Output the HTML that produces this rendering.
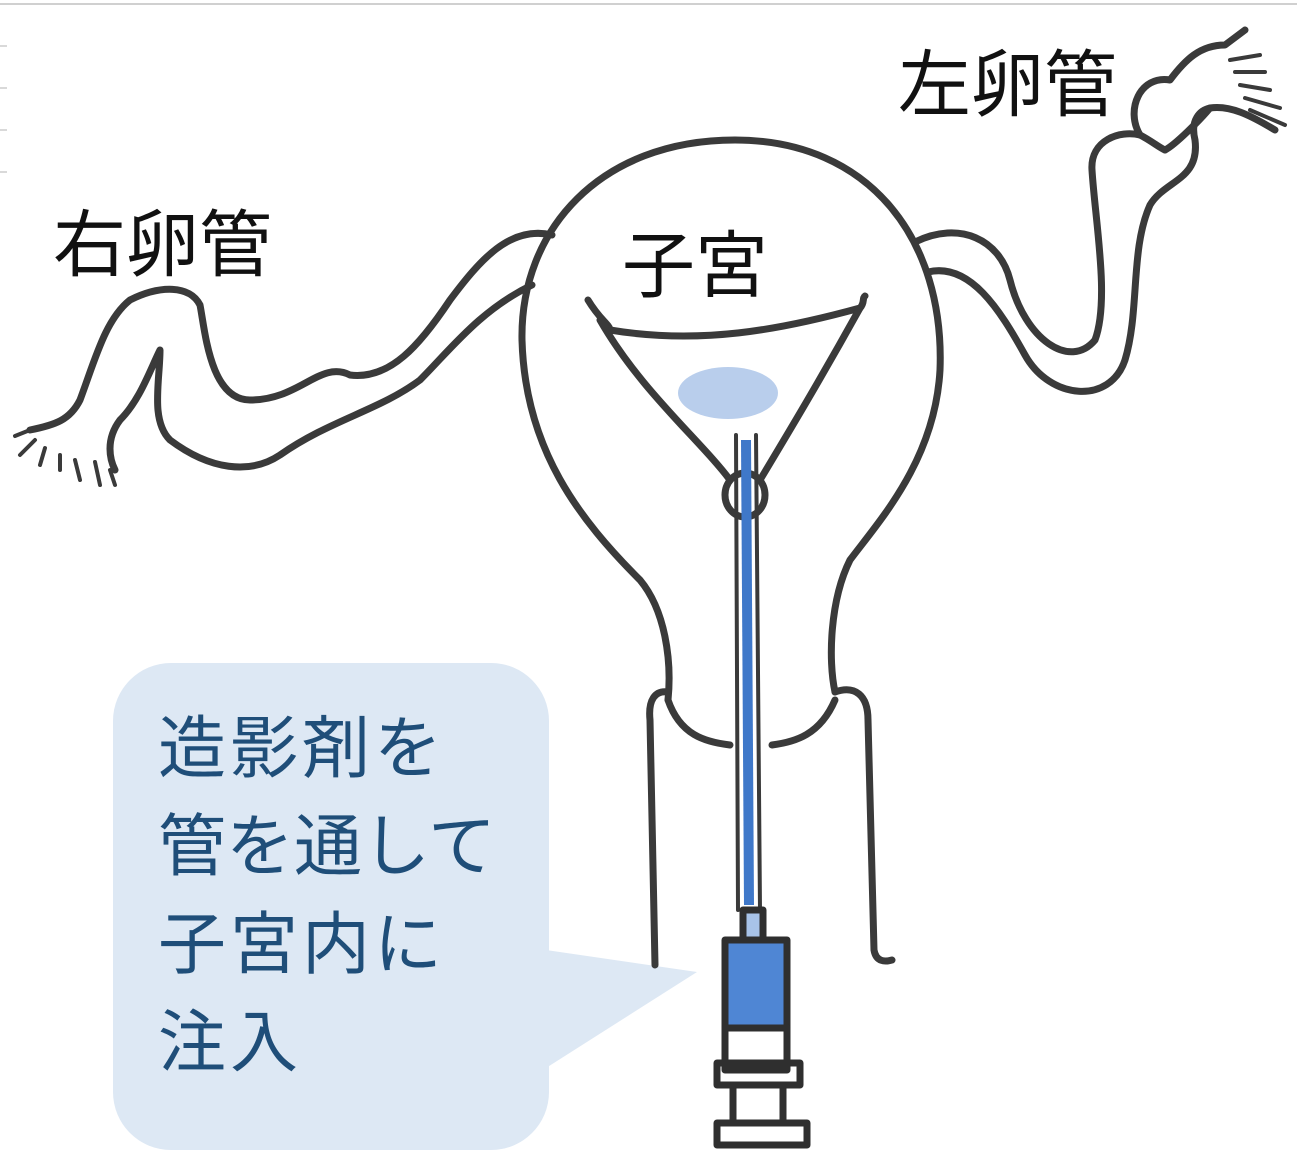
<!DOCTYPE html>
<html><head><meta charset="utf-8"><style>
html,body{margin:0;padding:0;background:#fff;}
body{width:1297px;height:1171px;overflow:hidden;position:relative;}
svg{position:absolute;left:0;top:0;}
</style></head><body>
<svg width="1297" height="1171" viewBox="0 0 1297 1171" xmlns="http://www.w3.org/2000/svg">
<line x1="0" y1="4" x2="1297" y2="4" stroke="#d0d0d0" stroke-width="2"/>
<g stroke="#ccc" stroke-width="1.5"><line x1="0" y1="46" x2="7" y2="46"/><line x1="0" y1="88" x2="7" y2="88"/><line x1="0" y1="130" x2="7" y2="130"/><line x1="0" y1="172" x2="7" y2="172"/></g>
<rect x="113" y="663" width="436" height="487" rx="58" fill="#dde8f4"/>
<polygon points="546,950 697,972 546,1068" fill="#dde8f4"/>
<g fill="none" stroke="#3a3a3a" stroke-width="7" stroke-linecap="round" stroke-linejoin="round">
<path d="M735,140 C600,140 520,230 522,340 C525,450 580,520 640,580 C665,610 672,660 668,700"/>
<path d="M668,692 C655,690 648,700 650,720 L655,965"/>
<path d="M735,140 C870,140 945,240 940,370 C935,460 880,520 850,560 C830,600 828,660 835,692"/>
<path d="M835,692 C855,685 868,695 868,720 L874,950 C876,962 885,962 892,960"/>
<path d="M668,700 C680,735 705,742 730,745"/>
<path d="M835,700 C820,735 795,742 772,745"/>
<path d="M588,300 C600,320 610,325 610,330 C700,345 780,330 860,308 C865,303 862,298 865,296"/>
<path d="M600,320 C640,390 700,440 730,480"/>
<path d="M860,308 C820,380 790,430 760,480"/>
<ellipse cx="745" cy="495" rx="20" ry="22"/>
<path d="M736,435 L738,910 M756,435 L760,910" stroke-width="4"/>
<path d="M552,235 C510,225 480,260 450,300 C420,345 390,380 350,375 C320,360 300,400 250,400 C210,400 205,330 200,305 C190,285 160,285 130,300 C105,320 95,360 80,400 C70,420 55,425 30,430"/>
<path d="M532,285 C480,310 450,350 420,380 C380,410 330,420 280,455 C250,475 210,470 170,440 C150,420 160,380 160,350 C150,370 140,400 120,420 C105,440 110,460 115,470"/>
<path d="M30,430 L15,436 M35,440 L20,455 M45,448 L40,465 M60,455 L60,470 M75,460 L80,480 M95,462 L100,485 M110,470 L115,485" stroke-width="4"/>
<path d="M915,242 C960,220 1000,240 1010,280 C1025,340 1070,370 1095,340 C1110,300 1095,220 1092,170 C1090,140 1120,130 1140,135 C1150,140 1160,148 1165,150"/>
<path d="M928,272 C970,262 1000,310 1025,355 C1050,400 1110,405 1125,360 C1140,310 1130,250 1150,205 C1165,180 1200,180 1195,140 C1190,120 1200,110 1210,108"/>
<path d="M1140,135 C1125,110 1140,75 1170,80 C1185,60 1200,45 1225,45 L1245,30"/>
<path d="M1165,150 C1175,145 1200,120 1210,108 C1230,105 1250,115 1275,130" />
<path d="M1230,60 L1260,55 M1235,72 L1265,72 M1240,85 L1270,90 M1245,98 L1280,108 M1250,110 L1285,125" stroke-width="4"/>
</g>
<ellipse cx="728" cy="393" rx="50" ry="26" fill="#7fa6dc" opacity="0.55"/>
<path d="M746,440 L749,905" stroke="#3f78c9" stroke-width="10"/>
<g stroke="#2f2f2f" stroke-width="7" fill="none" stroke-linejoin="round">
<rect x="743" y="910" width="20" height="30" fill="#a8c3e8"/>
<rect x="725" y="940" width="62" height="88" fill="#4f86d4"/>
<rect x="725" y="1028" width="62" height="42"/>
<rect x="717" y="1063" width="83" height="22"/>
<rect x="733" y="1085" width="50" height="38"/>
<rect x="717" y="1123" width="90" height="22"/>
</g>
<g font-family="'Liberation Sans','Noto Sans CJK JP',sans-serif" fill="#111" font-size="73">
<text x="53" y="270">右卵管</text>
<text x="898" y="110">左卵管</text>
<text x="622" y="291">子宮</text>
</g>
<g font-family="'Liberation Sans','Noto Sans CJK JP',sans-serif" fill="#1f4e79" font-size="68">
<text x="158" y="772" letter-spacing="4">造影剤を</text>
<text x="158" y="870">管を通して</text>
<text x="158" y="968" letter-spacing="4">子宮内に</text>
<text x="158" y="1066" letter-spacing="4">注入</text>
</g>
</svg>
</body></html>
